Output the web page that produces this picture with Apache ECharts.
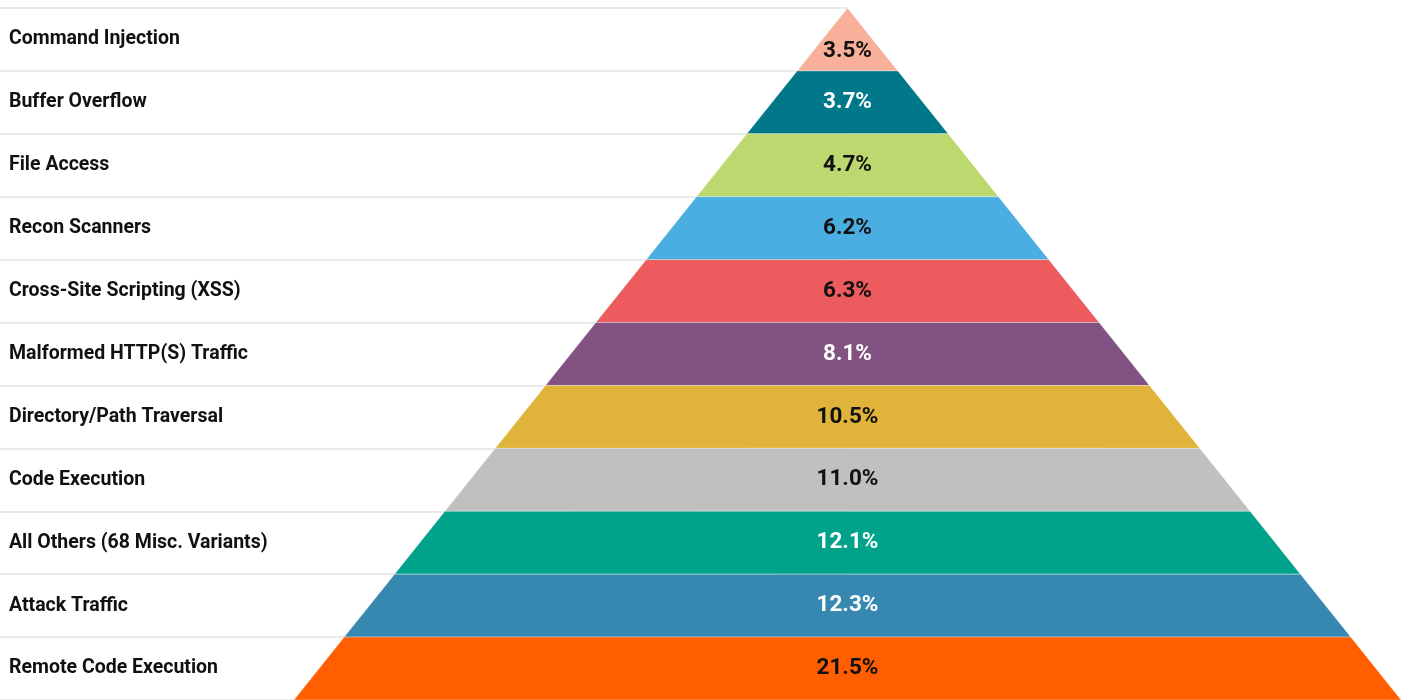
<!DOCTYPE html>
<html>
<head>
<meta charset="utf-8">
<title>Attack types pyramid</title>
<script src="https://cdn.jsdelivr.net/npm/echarts@6/dist/echarts.min.js"></script>
<style>
  html, body { margin: 0; padding: 0; background: #ffffff; }
  #chart { width: 1411px; height: 700px; }
</style>
</head>
<body>
<div id="chart"></div>
<script>
// Attack categories, top of the pyramid first
const categories = [
  'Command Injection',
  'Buffer Overflow',
  'File Access',
  'Recon Scanners',
  'Cross-Site Scripting (XSS)',
  'Malformed HTTP(S) Traffic',
  'Directory/Path Traversal',
  'Code Execution',
  'All Others (68 Misc. Variants)',
  'Attack Traffic',
  'Remote Code Execution'
];

// Share of attacks per category, in percent
const shares = [3.5, 3.7, 4.7, 6.2, 6.3, 8.1, 10.5, 11.0, 12.1, 12.3, 21.5];

// Fill of each band and the colour of the value written on it
const bandColors = [
  '#F9B09A', '#00788A', '#BDD86F', '#4AAEE0', '#EE5B5F', '#825283',
  '#E0B43A', '#C0C0C0', '#00A38A', '#3788B0', '#FF5F00'
];
const valueColors = [
  '#111111', '#ffffff', '#111111', '#111111', '#111111', '#ffffff',
  '#111111', '#111111', '#ffffff', '#ffffff', '#111111'
];

const FONT = 'Roboto, "DejaVu Sans", sans-serif';
const SLOPE = 0.8;   // half-width gained per pixel going down from the apex

function renderBand(params, api) {
  const idx = api.value(0);
  const bandH = api.size([0, 1])[1];
  const center = api.coord([1, idx]);
  const first = api.coord([1, 0]);
  const apexY = first[1] - bandH / 2;
  const cx = center[0];
  const top = center[1] - bandH / 2;
  const bottom = center[1] + bandH / 2;
  const wTop = SLOPE * (top - apexY);
  const wBot = SLOPE * (bottom - apexY);
  // the tip is a triangle, so its value sits lower than the band middle
  const labelY = center[1] + (idx === 0 ? bandH / 5.5 : 0);
  return {
    type: 'group',
    children: [
      {
        type: 'polygon',
        shape: {
          points: [
            [cx - wTop, top], [cx + wTop, top],
            [cx + wBot, bottom], [cx - wBot, bottom]
          ]
        },
        style: {
          fill: bandColors[idx],
          stroke: 'rgba(255,255,255,0.55)',
          lineWidth: 0.6
        }
      },
      {
        type: 'text',
        x: cx,
        y: labelY,
        style: {
          text: api.value(1).toFixed(1) + '%',
          fill: valueColors[idx],
          font: 'bold 22.5px ' + FONT,
          align: 'center',
          verticalAlign: 'middle'
        }
      }
    ]
  };
}

const chart = echarts.init(document.getElementById('chart'), null, { renderer: 'canvas' });

chart.setOption({
  animation: false,
  backgroundColor: '#ffffff',
  grid: { left: 0, top: 8, width: 847.5, height: 696, containLabel: false },
  xAxis: {
    type: 'value',
    min: 0,
    max: 1,
    show: false
  },
  yAxis: {
    type: 'category',
    inverse: true,
    data: categories,
    boundaryGap: true,
    axisLine: { show: false },
    axisTick: { show: false },
    splitLine: { show: true, lineStyle: { color: '#e3e3e3', width: 1.6 } },
    axisLabel: {
      inside: true,
      margin: 9,
      color: '#111111',
      fontFamily: FONT,
      fontWeight: 'bold',
      fontSize: 19.5,
      align: 'left'
    }
  },
  series: [{
    type: 'custom',
    clip: false,
    renderItem: renderBand,
    encode: { y: 0, x: 1 },
    data: shares.map((v, i) => [i, v]),
    z: 5
  }]
});
</script>
</body>
</html>
